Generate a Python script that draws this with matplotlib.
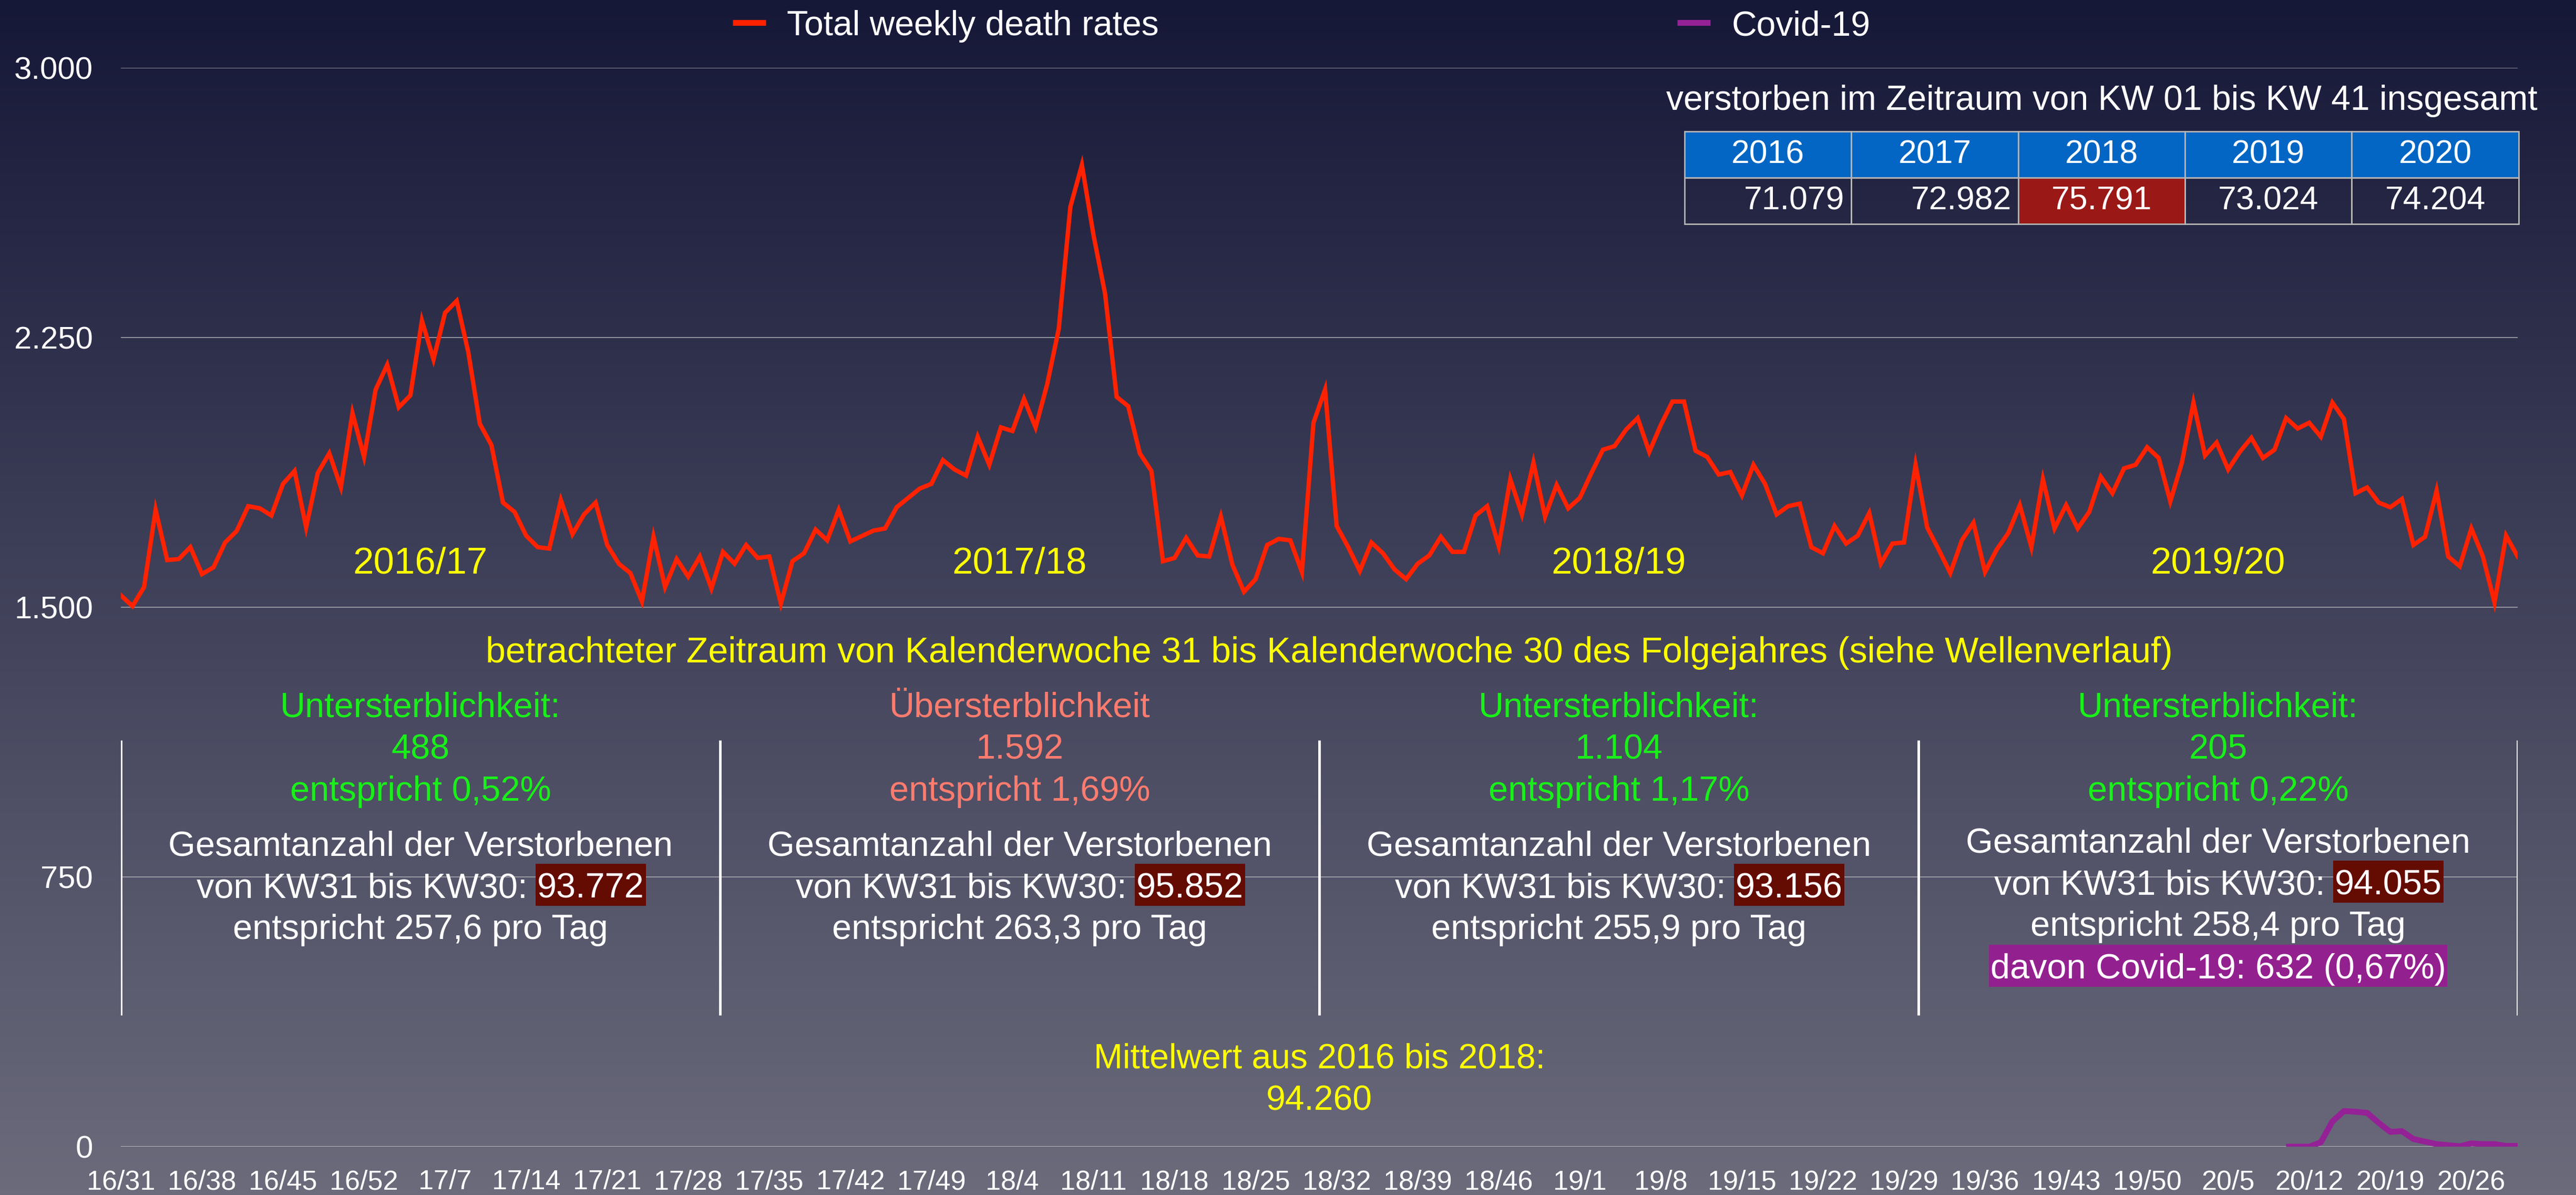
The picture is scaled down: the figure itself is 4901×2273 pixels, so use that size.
import numpy as np
import matplotlib.pyplot as plt
import matplotlib.transforms as mtransforms
from matplotlib.lines import Line2D
from matplotlib.patches import Rectangle

plt.rcParams['font.family'] = ['Liberation Sans', 'DejaVu Sans']

W, H = 4901, 2273

# Sterbefälle pro Woche, KW 31/2016 bis KW 30/2020
deaths = [
    1533, 1503, 1556, 1771, 1631, 1634, 1667, 1592, 1611, 1680,
    1712, 1781, 1775, 1755, 1843, 1879, 1722, 1873, 1928, 1834,
    2040, 1918, 2105, 2174, 2056, 2089, 2297, 2189, 2319, 2352,
    2210, 2010, 1951, 1791, 1765, 1699, 1667, 1663, 1798, 1703,
    1758, 1791, 1673, 1621, 1595, 1516, 1696, 1556, 1634, 1585,
    1641, 1552, 1654, 1621, 1673, 1637, 1641, 1510, 1628, 1650,
    1716, 1686, 1771, 1683, 1698, 1713, 1719, 1778, 1804, 1830,
    1843, 1909, 1883, 1866, 1974, 1896, 2000, 1990, 2079, 2000,
    2120, 2274, 2613, 2730, 2535, 2372, 2085, 2059, 1928, 1879,
    1628, 1637, 1693, 1644, 1641, 1752, 1618, 1543, 1578, 1673,
    1690, 1686, 1598, 2013, 2105, 1726, 1667, 1601, 1680, 1650,
    1605, 1578, 1621, 1644, 1696, 1654, 1654, 1755, 1781, 1670,
    1856, 1758, 1902, 1752, 1840, 1775, 1804, 1873, 1938, 1948,
    1994, 2026, 1932, 2007, 2072, 2072, 1935, 1918, 1869, 1876,
    1811, 1896, 1843, 1758, 1781, 1788, 1667, 1650, 1726, 1677,
    1699, 1762, 1621, 1677, 1680, 1896, 1722, 1660, 1595, 1686,
    1735, 1598, 1660, 1706, 1784, 1667, 1856, 1719, 1784, 1719,
    1765, 1863, 1817, 1886, 1896, 1945, 1915, 1794, 1902, 2069,
    1922, 1958, 1883, 1932, 1971, 1915, 1938, 2026, 1997, 2013,
    1974, 2069, 2023, 1817, 1833, 1791, 1778, 1801, 1673, 1696,
    1824, 1641, 1614, 1719, 1641, 1513, 1699, 1641,
]

# Covid-19 Todesfälle ab KW 10/2020
covid_start = 187
covid = [0, 0, 0, 12, 70, 99, 97, 94, 66, 41, 43, 21, 14, 7, 4, 1, 9, 7, 7, 2, 2]

tick_labels = ['16/31', '16/38', '16/45', '16/52', '17/7', '17/14', '17/21', '17/28',
               '17/35', '17/42', '17/49', '18/4', '18/11', '18/18', '18/25', '18/32',
               '18/39', '18/46', '19/1', '19/8', '19/15', '19/22', '19/29', '19/36',
               '19/43', '19/50', '20/5', '20/12', '20/19', '20/26']

seasons = ['2016/17', '2017/18', '2018/19', '2019/20']
status = ['Untersterblichkeit:', 'Übersterblichkeit', 'Untersterblichkeit:', 'Untersterblichkeit:']
status_colors = ['#19f019', '#ff7b6e', '#19f019', '#19f019']
diff = ['488', '1.592', '1.104', '205']
diff_pct = ['entspricht 0,52%', 'entspricht 1,69%', 'entspricht 1,17%', 'entspricht 0,22%']
season_totals = ['93.772', '95.852', '93.156', '94.055']
per_day = ['257,6', '263,3', '255,9', '258,4']
covid_note = 'davon Covid-19: 632 (0,67%)'

table_years = ['2016', '2017', '2018', '2019', '2020']
table_totals = ['71.079', '72.982', '75.791', '73.024', '74.204']

fig = plt.figure(figsize=(W / 100, H / 100), dpi=100)

# Hintergrund mit Farbverlauf
bg = fig.add_axes([0, 0, 1, 1], zorder=-10)
top = np.array([22, 24, 56]) / 255
bottom = np.array([107, 107, 124]) / 255
t = np.linspace(0, 1, 256)[:, None]
grad = top + (bottom - top) * t
bg.imshow(grad[:, None, :], aspect='auto', extent=[0, 1, 0, 1])
bg.axis('off')

ax = fig.add_axes([230 / W, 92 / H, 4560 / W, 2052 / H])
ax.set_facecolor('none')

x = np.arange(len(deaths))
ax.plot(x, deaths, color='#ff2200', lw=6, solid_joinstyle='miter', zorder=4)
xc = np.arange(covid_start, covid_start + len(covid))
ax.plot(xc, covid, color='#952196', lw=8, solid_capstyle='butt', zorder=4)

ax.set_xlim(0, len(deaths) - 1)
ax.set_ylim(0, 3000)
yt = [0, 750, 1500, 2250, 3000]
ax.set_yticks(yt)
ax.set_yticklabels([f'{v:,}'.replace(',', '.') for v in yt])
ax.set_xticks(range(0, len(deaths), 7))
ax.set_xticklabels(tick_labels)
ax.tick_params(length=0, colors='white')
ax.tick_params(axis='y', labelsize=43, pad=38)
ax.tick_params(axis='x', labelsize=37.5, pad=31)
for s in ax.spines.values():
    s.set_visible(False)

for v in yt[1:]:
    ax.axhline(v, color='#a5a5ad', lw=1.2, zorder=1)
ax.axhline(0, color='#b8b8b8', lw=2.2, zorder=2)

# Trennlinien zwischen den Saisons
ax.vlines(np.linspace(0, len(deaths) - 1, 5), 365, 1130, color='white', lw=3.5, zorder=2)

# Tabelle KW 01 bis KW 41
tbl = ax.table(cellText=[table_totals], colLabels=table_years, cellLoc='center',
               bbox=[0.6524, 0.8553, 0.3480, 0.0858], zorder=5)
tbl.auto_set_font_size(False)
tbl.set_fontsize(45)
for (r, c), cell in tbl.get_celld().items():
    cell.set_edgecolor('#b4b4b4')
    cell.set_linewidth(2)
    cell.get_text().set_color('white')
    if r == 0:
        cell.set_facecolor('#0366c4')
    else:
        cell.set_facecolor('none')
        if c < 2:
            cell.get_text().set_horizontalalignment('right')
            cell.PAD = 0.04
tbl[1, 2].set_facecolor('#9a1916')

# Texte in Pixelkoordinaten (y von oben)
px = mtransforms.Affine2D().scale(1 / W, -1 / H).translate(0, 1) + fig.transFigure
renderer = fig.canvas.get_renderer()


def label(xp, yp, s, color='white', size=48, ha='center'):
    return fig.text(xp, yp, s, transform=px, ha=ha, va='baseline', color=color, fontsize=size)


def highlight(cx, yp, prefix, value, box_color, size=48):
    tmp = label(cx, yp, prefix + value, size=size)
    w_full = tmp.get_window_extent(renderer).width
    tmp.remove()
    x_left = cx - w_full / 2
    x_right = cx + w_full / 2
    if prefix:
        label(x_left, yp, prefix.rstrip(), size=size, ha='left')
    num = label(x_right, yp, value, size=size, ha='right')
    w_num = num.get_window_extent(renderer).width
    fig.add_artist(Rectangle((x_right - w_num - 3, yp - 64), w_num + 6, 80, transform=px,
                             facecolor=box_color, edgecolor='none', zorder=1))


# Legende
fig.add_artist(Line2D([1394, 1457], [43, 43], transform=px, color='#ff2200', lw=8,
                      solid_capstyle='butt'))
label(1497, 67, 'Total weekly death rates', size=47.5, ha='left')
fig.add_artist(Line2D([3191, 3254], [43, 43], transform=px, color='#952196', lw=8,
                      solid_capstyle='butt'))
label(3295, 67, 'Covid-19', size=47.5, ha='left')

label(3999, 209, 'verstorben im Zeitraum von KW 01 bis KW 41 insgesamt', size=47.5)

col_x = [230 + 4560 * (i + 0.5) / 4 for i in range(4)]
for i, s in enumerate(seasons):
    label(col_x[i], 1091, s, color='yellow', size=51)

label(2529, 1260, 'betrachteter Zeitraum von Kalenderwoche 31 bis Kalenderwoche 30 '
      'des Folgejahres (siehe Wellenverlauf)', color='yellow', size=49)

for i in range(4):
    cx = col_x[i]
    label(cx, 1364, status[i], color=status_colors[i])
    label(cx, 1444, diff[i], color=status_colors[i])
    label(cx, 1523, diff_pct[i], color=status_colors[i])
    y0 = 1627 if i < 3 else 1621
    label(cx, y0, 'Gesamtanzahl der Verstorbenen')
    highlight(cx, y0 + 80, 'von KW31 bis KW30: ', season_totals[i], '#640b02')
    label(cx, y0 + 159, f'entspricht {per_day[i]} pro Tag')

highlight(col_x[3], 1861, '', covid_note, '#93208f')

label(2510, 2031, 'Mittelwert aus 2016 bis 2018:', color='yellow', size=47.5)
label(2510, 2111, '94.260', color='yellow', size=47.5)

fig.savefig('out.png', dpi=100)
